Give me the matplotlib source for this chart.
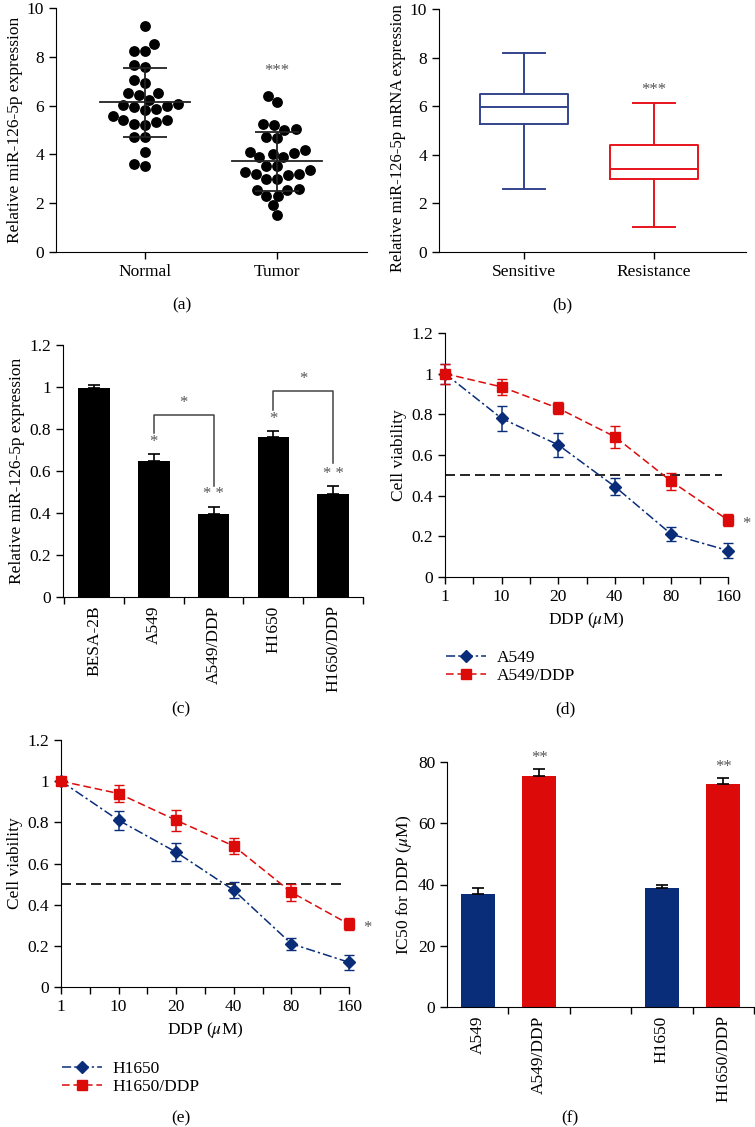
import numpy as np
import matplotlib
matplotlib.use("Agg")
import matplotlib.pyplot as plt
import seaborn as sns
from matplotlib.ticker import FuncFormatter
from matplotlib.lines import Line2D

plt.rcParams['font.family'] = ['Liberation Serif', 'DejaVu Serif']
plt.rcParams['mathtext.fontset'] = 'stix'
plt.rcParams['font.size'] = 12.5

# ---- data ----
# (a) scatter
normal_vals = [9.25, 8.52, 8.25, 8.25, 7.68, 7.57, 7.06, 6.93, 6.52, 6.45, 6.52, 6.24,
               6.04, 5.93, 5.83, 5.86, 5.97, 6.08, 5.59, 5.40, 5.25, 5.22, 5.33, 5.40,
               4.70, 4.70, 4.10, 3.51, 3.61]
tumor_vals = [6.38, 6.13, 5.26, 5.19, 5.01, 5.04, 4.67, 4.70, 4.17, 4.06, 3.88, 3.88,
              4.02, 4.10, 3.51, 3.37, 3.21, 3.14, 2.99, 2.99, 3.21, 3.27, 3.51, 2.55,
              2.31, 2.31, 2.55, 2.60, 1.91, 1.50]
scatter_groups = ["Normal", "Tumor"]

# (b) box plot stats
box_groups = ["Sensitive", "Resistance"]
box_low = [2.60, 1.03]
box_q1 = [5.26, 3.01]
box_med = [5.95, 3.41]
box_q3 = [6.50, 4.41]
box_high = [8.17, 6.15]

# (c) expression bars
c_labels = ["BESA-2B", "A549", "A549/DDP", "H1650", "H1650/DDP"]
c_vals = [0.995, 0.65, 0.395, 0.76, 0.49]
c_err = [0.015, 0.03, 0.035, 0.03, 0.04]
c_marks = ["", "*", "* *", "*", "* *"]

# (d), (e) viability curves
doses = ["1", "10", "20", "40", "80", "160"]
a549 = [1.0, 0.78, 0.65, 0.445, 0.21, 0.13]
a549_err = [0.05, 0.06, 0.06, 0.04, 0.035, 0.035]
a549ddp = [1.0, 0.935, 0.83, 0.69, 0.47, 0.28]
a549ddp_err = [0.05, 0.04, 0.03, 0.055, 0.04, 0.03]
h1650 = [1.0, 0.81, 0.655, 0.47, 0.21, 0.12]
h1650_err = [0.02, 0.045, 0.045, 0.04, 0.03, 0.035]
h1650ddp = [1.0, 0.94, 0.81, 0.685, 0.46, 0.305]
h1650ddp_err = [0.02, 0.04, 0.05, 0.04, 0.04, 0.03]

# (f) IC50
f_labels = ["A549", "A549/DDP", "H1650", "H1650/DDP"]
f_vals = [37.0, 75.5, 38.7, 72.7]
f_err = [2.0, 2.2, 1.3, 2.2]
f_marks = ["", "**", "", "**"]

BLUE = "#0a2d7a"
RED = "#dd0a0a"
BOXBLUE = "#34448c"
BOXRED = "#e8141b"
STARC = "#555555"
LBL = 12.5

W, H = 755, 1127
fig = plt.figure(figsize=(W / 100, H / 100), dpi=100)


def add_ax(l, r, t, b):
    return fig.add_axes([l / W, 1 - b / H, (r - l) / W, (b - t) / H])


def style(ax):
    ax.spines['top'].set_visible(False)
    ax.spines['right'].set_visible(False)
    ax.tick_params(direction='out', length=5, width=1, labelsize=12.5)
    ax.tick_params(which='minor', direction='out', length=5, width=1)


def short_fmt(v, _):
    s = f"{v:.1f}"
    return s[:-2] if s.endswith(".0") else s


# ---- (a) ----
ax = add_ax(56, 367, 8, 252)
xs, ys = [], []
for g, vals in zip(scatter_groups, [normal_vals, tumor_vals]):
    xs += [g] * len(vals)
    ys += vals
sns.swarmplot(x=xs, y=ys, ax=ax, color='black', size=7.8, order=scatter_groups)
for i, vals in enumerate([normal_vals, tumor_vals]):
    m, sd = np.mean(vals), np.std(vals, ddof=1)
    ax.plot([i - 0.34, i + 0.34], [m, m], color='#222222', lw=1.3, zorder=5)
    ax.errorbar(i, m, yerr=sd, color='#222222', lw=1.3, capsize=16, capthick=1.3, zorder=5)
ax.text(1, 7.1, "***", ha='center', va='bottom', color=STARC, fontsize=12)
ax.set_xlim(-0.674, 1.68)
ax.set_ylim(0, 10)
ax.set_yticks([0, 2, 4, 6, 8, 10])
ax.set_ylabel("Relative miR-126-5p expression", fontsize=LBL, labelpad=3)
style(ax)

# ---- (b) ----
ax = add_ax(439, 746, 9, 252)
stats = []
for i, g in enumerate(box_groups):
    stats.append(dict(label=g, whislo=box_low[i], q1=box_q1[i], med=box_med[i],
                      q3=box_q3[i], whishi=box_high[i], fliers=[]))
for i, col in enumerate([BOXBLUE, BOXRED]):
    ax.bxp([stats[i]], positions=[i], widths=0.67, showfliers=False,
           boxprops=dict(color=col, lw=1.4), medianprops=dict(color=col, lw=1.4),
           whiskerprops=dict(color=col, lw=1.4), capprops=dict(color=col, lw=1.4),
           capwidths=0.33)
ax.text(1, 6.35, "***", ha='center', va='bottom', color=STARC, fontsize=12)
ax.set_xticks([0, 1])
ax.set_xticklabels(box_groups)
ax.set_xlim(-0.654, 1.708)
ax.set_ylim(0, 10)
ax.set_yticks([0, 2, 4, 6, 8, 10])
ax.set_ylabel("Relative miR-126-5p mRNA expression", fontsize=12, labelpad=3)
style(ax)
ax.yaxis.label.set_y(0.47)

# ---- (c) ----
ax = add_ax(63, 363, 345, 597)
xc = np.arange(len(c_labels))
ax.bar(xc, c_vals, width=0.53, color='black')
ax.errorbar(xc, c_vals, yerr=[np.zeros(len(c_err)), c_err], fmt='none', ecolor='black',
            capsize=4, lw=1.2, capthick=1.2)
for i, s in enumerate(c_marks):
    if s:
        ax.text(xc[i], c_vals[i] + c_err[i] + 0.02, s, ha='center', va='bottom',
                color=STARC, fontsize=12)
# brackets
ax.plot([1, 1, 2, 2], [0.78, 0.866, 0.866, 0.53], color='#444444', lw=1.1)
ax.text(1.5, 0.885, "*", ha='center', va='bottom', color=STARC, fontsize=12)
ax.plot([3, 3, 4, 4], [0.89, 0.98, 0.98, 0.636], color='#444444', lw=1.1)
ax.text(3.5, 1.0, "*", ha='center', va='bottom', color=STARC, fontsize=12)
ax.set_xticks(xc)
ax.set_xticklabels(c_labels, rotation=90)
ax.set_xticks(np.arange(-0.5, 4.6, 1), minor=True)
ax.set_xlim(-0.52, 4.5)
ax.set_ylim(0, 1.2)
ax.set_yticks(np.arange(0, 1.21, 0.2))
ax.yaxis.set_major_formatter(FuncFormatter(short_fmt))
ax.set_ylabel("Relative miR-126-5p expression", fontsize=LBL, labelpad=3)
style(ax)
ax.tick_params(axis='x', which='major', length=0, pad=6)


def viability(ax, s1, e1, s2, e2, n1, n2):
    xd = np.arange(len(doses))
    ls1 = (0, (6, 2, 1.5, 2))
    ls2 = (0, (5, 2.5))
    ax.axhline(0.5, xmin=0, xmax=0.98, color='black', ls=(0, (6, 3)), lw=1.2)
    ax.errorbar(xd, s1, yerr=e1, color=BLUE, ls=ls1, lw=1.1,
                marker='D', ms=6.5, capsize=3.5, clip_on=False, zorder=4)
    ax.errorbar(xd, s2, yerr=e2, color=RED, ls=ls2, lw=1.1,
                marker='s', ms=6.5, capsize=3.5, clip_on=False, zorder=5)
    ax.text(5.32, s2[-1] - 0.02, "*", ha='center', va='center', color=STARC, fontsize=12)
    ax.set_xticks(xd)
    ax.set_xticklabels(doses)
    ax.set_xticks(np.arange(0.5, 5, 1), minor=True)
    ax.set_xlim(0, 5)
    ax.set_ylim(0, 1.2)
    ax.set_yticks(np.arange(0, 1.21, 0.2))
    ax.yaxis.set_major_formatter(FuncFormatter(short_fmt))
    ax.set_xlabel(r"DDP ($\mu$M)", fontsize=LBL, labelpad=4)
    ax.set_ylabel("Cell viability", fontsize=LBL, labelpad=3)
    style(ax)
    handles = [Line2D([], [], color=BLUE, ls=ls1, lw=1.1, marker='D', ms=6.5),
               Line2D([], [], color=RED, ls=ls2, lw=1.1, marker='s', ms=6.5)]
    ax.legend(handles, [n1, n2], loc='upper left', bbox_to_anchor=(-0.02, -0.27),
              frameon=False, fontsize=LBL, handlelength=2.3, handletextpad=0.6,
              labelspacing=0.1, borderaxespad=0)


# ---- (d) ----
ax = add_ax(445, 728, 333, 577)
viability(ax, a549, a549_err, a549ddp, a549ddp_err, "A549", "A549/DDP")

# ---- (e) ----
ax = add_ax(61, 349, 740, 987)
viability(ax, h1650, h1650_err, h1650ddp, h1650ddp_err, "H1650", "H1650/DDP")

# ---- (f) ----
ax = add_ax(447, 754, 762, 1007)
xf = [0, 1, 3, 4]
ax.bar(xf, f_vals, width=0.56, color=[BLUE, RED, BLUE, RED])
ax.errorbar(xf, f_vals, yerr=[np.zeros(len(f_err)), f_err], fmt='none', ecolor='black',
            capsize=4, lw=1.2, capthick=1.2)
for i, s in enumerate(f_marks):
    if s:
        ax.text(xf[i], f_vals[i] + f_err[i] + 1.0, s, ha='center', va='bottom',
                color=STARC, fontsize=12)
ax.set_xticks(xf)
ax.set_xticklabels(f_labels, rotation=90)
ax.set_xticks(np.arange(0.5, 4.6, 1), minor=True)
ax.set_xlim(-0.5, 4.5)
ax.set_ylim(0, 80)
ax.set_yticks([0, 20, 40, 60, 80])
ax.set_ylabel(r"IC50 for DDP ($\mu$M)", fontsize=LBL, labelpad=3)
style(ax)
ax.tick_params(axis='x', which='major', length=0, pad=6)

# panel labels
for lab, x, y in [("(a)", 182, 305), ("(b)", 562, 305), ("(c)", 181, 709),
                  ("(d)", 565, 709), ("(e)", 181, 1118), ("(f)", 570, 1118)]:
    fig.text(x / W, 1 - y / H, lab, ha='center', va='center', fontsize=LBL)

fig.savefig("out.png", dpi=100)
